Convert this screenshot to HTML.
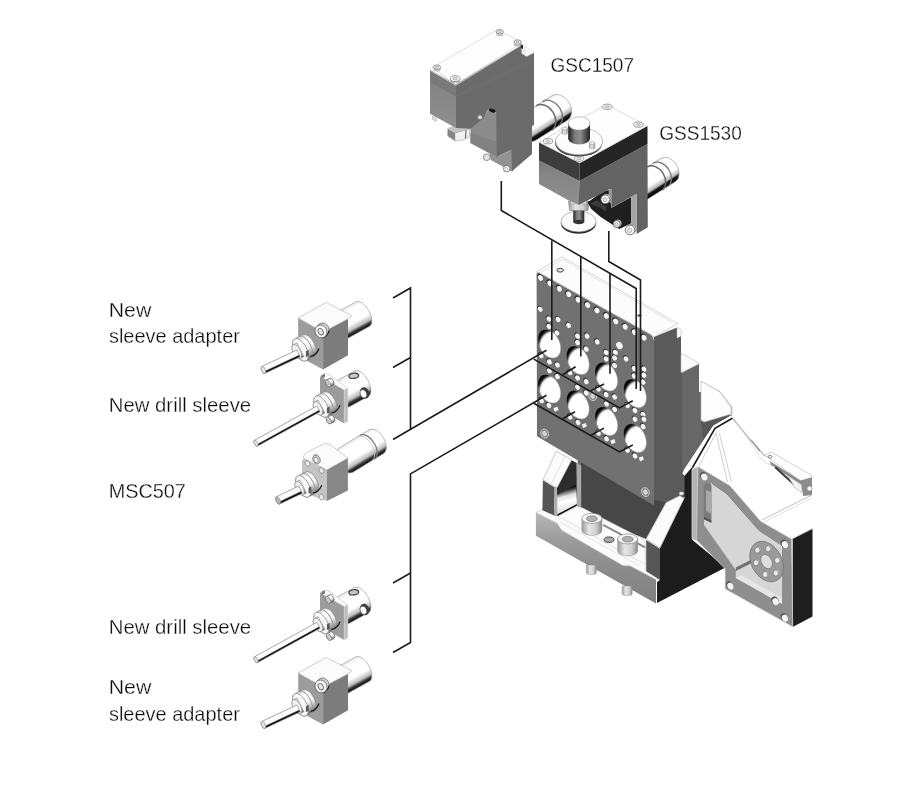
<!DOCTYPE html>
<html><head><meta charset="utf-8"><title>Diagram</title>
<style>
html,body{margin:0;padding:0;background:#fff;}
body{width:900px;height:800px;overflow:hidden;}
svg{display:block;}
text{font-family:"Liberation Sans",sans-serif;font-size:21px;fill:#0c0c0c;stroke:#fff;stroke-width:0.3px;}
svg{will-change:transform;}
</style></head><body>
<svg width="900" height="800" viewBox="0 0 900 800">
<defs>
<linearGradient id="cylG" x1="0" y1="0" x2="0" y2="1">
<stop offset="0" stop-color="#e4e4e4"/><stop offset="0.12" stop-color="#ffffff"/><stop offset="0.62" stop-color="#ffffff"/>
<stop offset="0.8" stop-color="#b4b4b4"/><stop offset="0.87" stop-color="#1a1a1a"/><stop offset="1" stop-color="#000"/>
</linearGradient>
<linearGradient id="cylS" x1="0" y1="0" x2="0" y2="1">
<stop offset="0" stop-color="#eaeaea"/><stop offset="0.15" stop-color="#ffffff"/><stop offset="0.6" stop-color="#ffffff"/>
<stop offset="0.8" stop-color="#bdbdbd"/><stop offset="0.9" stop-color="#333"/><stop offset="1" stop-color="#111"/>
</linearGradient>
<linearGradient id="rodG" x1="0" y1="0" x2="0" y2="1">
<stop offset="0" stop-color="#d8d8d8"/><stop offset="0.1" stop-color="#fff"/><stop offset="0.64" stop-color="#fafafa"/>
<stop offset="0.76" stop-color="#555"/><stop offset="0.86" stop-color="#000"/><stop offset="1" stop-color="#000"/>
</linearGradient>
<linearGradient id="nutG" x1="0" y1="0" x2="0" y2="1">
<stop offset="0" stop-color="#d0d0d0"/><stop offset="0.2" stop-color="#fff"/><stop offset="0.55" stop-color="#f0f0f0"/>
<stop offset="0.8" stop-color="#aaa"/><stop offset="1" stop-color="#666"/>
</linearGradient>
<radialGradient id="holeG" cx="0.62" cy="0.63" r="0.66">
<stop offset="0" stop-color="#fff"/><stop offset="0.74" stop-color="#fff"/><stop offset="0.82" stop-color="#c8c8c8"/><stop offset="0.9" stop-color="#3a3a3a"/><stop offset="1" stop-color="#000"/>
</radialGradient>
<linearGradient id="btnG" x1="0" y1="0" x2="1" y2="0">
<stop offset="0" stop-color="#1e1e1e"/><stop offset="0.3" stop-color="#7a7a7a"/><stop offset="0.55" stop-color="#8e8e8e"/><stop offset="0.85" stop-color="#444"/><stop offset="1" stop-color="#222"/>
</linearGradient>
<linearGradient id="boltG" x1="0" y1="0" x2="1" y2="0">
<stop offset="0" stop-color="#9a9a9a"/><stop offset="0.35" stop-color="#e6e6e6"/><stop offset="0.7" stop-color="#d0d0d0"/><stop offset="1" stop-color="#8a8a8a"/>
</linearGradient>
<linearGradient id="gscL" x1="0" y1="0" x2="0" y2="1">
<stop offset="0" stop-color="#787878"/><stop offset="0.3" stop-color="#858585"/><stop offset="1" stop-color="#8f8f8f"/>
</linearGradient>
<linearGradient id="baseF" x1="0" y1="0" x2="0" y2="1">
<stop offset="0" stop-color="#b8b8b8"/><stop offset="0.3" stop-color="#9c9c9c"/><stop offset="0.6" stop-color="#8c8c8c"/><stop offset="1" stop-color="#808080"/>
</linearGradient>
<linearGradient id="gusCyl" x1="0.25" y1="0" x2="0.45" y2="1">
<stop offset="0" stop-color="#000"/><stop offset="0.2" stop-color="#161616"/><stop offset="0.42" stop-color="#e4e4e4"/><stop offset="0.6" stop-color="#fff"/><stop offset="0.88" stop-color="#e2e2e2"/><stop offset="1" stop-color="#8a8a8a"/>
</linearGradient>
<linearGradient id="whiteCyl" x1="0" y1="0" x2="1" y2="1">
<stop offset="0" stop-color="#777"/><stop offset="0.35" stop-color="#fff"/><stop offset="0.7" stop-color="#fff"/><stop offset="1" stop-color="#999"/>
</linearGradient>
</defs>
<rect width="900" height="800" fill="#fff"/>
<g transform="translate(528.0 128.1) rotate(-32.46)">
<path d="M0,-14.5 L37.5,-14.5 A10.9,14.5 0 0 1 37.5,14.5 L0,14.5 A10.9,14.5 0 0 1 0,-14.5 Z" fill="url(#cylG)" stroke="#9a9a9a" stroke-width="0.6"/>
<path d="M18.7,-14.5 A10.9,14.5 0 0 1 18.7,14.5" fill="none" stroke="#6a6a6a" stroke-width="1.5"/>
<path d="M26.6,-14.5 A10.9,14.5 0 0 1 26.6,14.5" fill="none" stroke="#787878" stroke-width="1.3"/>
</g>
<g id="gsc">
<polygon points="470.5,128.5 484.0,118.5 487.0,111.0 490.0,109.5 495.5,112.5 498.5,112.5 498.5,158.0 470.5,143.0" fill="#8c8c8c" />
<polygon points="470.5,133.0 498.5,142.5 498.5,158.0 470.5,143.0" fill="#818181" />
<polygon points="489.3,153.0 496.7,156.7 513.0,149.5 513.0,171.3 511.3,171.3 490.7,160.0" fill="#939393" />
<polygon points="447.5,128.0 456.0,125.0 470.0,127.0 470.0,130.0 455.0,133.5" fill="#c4c4c4" />
<polygon points="447.5,128.5 455.0,133.0 455.0,141.0 447.5,136.0" fill="#858585" />
<polygon points="455.0,133.0 470.0,129.0 469.3,137.0 463.0,140.0 455.0,141.0" fill="#f1f1f1" stroke="#999" stroke-width="0.5" stroke-linejoin="round" />
<polyline points="466.0,130.5 465.5,138.5" fill="none" stroke="#555" stroke-width="1.0" />
<polygon points="430.0,70.0 456.0,84.5 456.0,128.0 430.0,113.8" fill="url(#gscL)" />
<polygon points="430.0,70.0 456.0,84.5 456.0,96.5 430.0,82.0" fill="#7a7a7a" />
<polygon points="456.0,84.0 522.0,44.5 522.0,48.0 534.0,52.0 534.0,125.0 532.0,126.0 532.0,154.0 512.0,171.3 511.3,150.0 496.7,156.7 496.2,112.8 493.5,110.0 490.0,109.2 487.0,110.8 484.0,118.5 470.5,128.7 456.0,128.0" fill="#6b6b6b" />
<polygon points="521.5,43.5 525.5,46.0 525.5,56.0 521.5,53.5" fill="#f0f0f0" />
<polygon points="525.0,46.3 533.9,51.3 533.9,52.8 526.5,56.6 525.0,55.8" fill="#fbfbfb" stroke="#cfcfcf" stroke-width="0.4" stroke-linejoin="round" />
<polygon points="520.8,44.0 523.0,45.2 523.0,49.0 520.8,48.0" fill="#222" />
<polyline points="456.0,96.5 534.0,60.0" fill="none" stroke="#747474" stroke-width="0.8" />
<ellipse cx="492.3" cy="110.6" rx="3.4" ry="1.7" fill="#111" transform="rotate(18 492.3 110.6)" />
<polygon points="432.3,67.6 497.5,29.5 522.0,42.5 455.7,84.2" fill="#fdfdfd" stroke="#cdcdcd" stroke-width="0.6" stroke-linejoin="round" />
<polyline points="430.3,70.5 455.9,85.2 521.5,45.0" fill="none" stroke="#e0e0e0" stroke-width="0.8" />
<path d="M434.1,67.3 L434.1,70.9 L439.9,70.9 L439.9,67.3 Z" fill="#e8e8e8" stroke="#777" stroke-width="0.5"/>
<ellipse cx="437.0" cy="67.3" rx="3.6" ry="2.2" fill="#f6f6f6" stroke="#6e6e6e" stroke-width="0.7" />
<ellipse cx="437.0" cy="67.3" rx="1.6" ry="1.0" fill="#dcdcdc" stroke="#888" stroke-width="0.5" />
<path d="M451.4,78.6 L451.4,82.2 L459.0,82.2 L459.0,78.6 Z" fill="#e8e8e8" stroke="#777" stroke-width="0.5"/>
<ellipse cx="455.2" cy="78.6" rx="4.8" ry="2.9" fill="#f6f6f6" stroke="#6e6e6e" stroke-width="0.7" />
<ellipse cx="455.2" cy="78.6" rx="2.2" ry="1.3" fill="#dcdcdc" stroke="#888" stroke-width="0.5" />
<path d="M496.8,31.7 L496.8,35.3 L502.6,35.3 L502.6,31.7 Z" fill="#e8e8e8" stroke="#777" stroke-width="0.5"/>
<ellipse cx="499.7" cy="31.7" rx="3.6" ry="2.2" fill="#f6f6f6" stroke="#6e6e6e" stroke-width="0.7" />
<ellipse cx="499.7" cy="31.7" rx="1.6" ry="1.0" fill="#dcdcdc" stroke="#888" stroke-width="0.5" />
<path d="M514.7,42.0 L514.7,45.6 L520.5,45.6 L520.5,42.0 Z" fill="#e8e8e8" stroke="#777" stroke-width="0.5"/>
<ellipse cx="517.6" cy="42.0" rx="3.6" ry="2.2" fill="#f6f6f6" stroke="#6e6e6e" stroke-width="0.7" />
<ellipse cx="517.6" cy="42.0" rx="1.6" ry="1.0" fill="#dcdcdc" stroke="#888" stroke-width="0.5" />
<ellipse cx="486.7" cy="157.3" rx="3.3" ry="3.3" fill="#f4f4f4" stroke="#6e6e6e" stroke-width="0.8" />
<ellipse cx="486.1" cy="157.7" rx="1.5" ry="1.5" fill="#fff" stroke="#999" stroke-width="0.5" />
<ellipse cx="506.7" cy="168.7" rx="3.3" ry="3.3" fill="#f4f4f4" stroke="#6e6e6e" stroke-width="0.8" />
<ellipse cx="506.1" cy="169.1" rx="1.5" ry="1.5" fill="#fff" stroke="#999" stroke-width="0.5" />
<ellipse cx="480.0" cy="117.3" rx="2.3" ry="2.3" fill="#f4f4f4" stroke="#6e6e6e" stroke-width="0.8" />
<ellipse cx="479.4" cy="117.7" rx="1.0" ry="1.0" fill="#fff" stroke="#999" stroke-width="0.5" />
<polygon points="432.5,116.0 436.5,118.0 436.5,121.5 432.5,119.5" fill="#ddd" stroke="#999" stroke-width="0.4" stroke-linejoin="round" />
</g>
<g transform="translate(640.0 187.8) rotate(-32.44)">
<path d="M0,-13.7 L33.2,-13.7 A9.9,13.7 0 0 1 33.2,13.7 L0,13.7 A9.9,13.7 0 0 1 0,-13.7 Z" fill="url(#cylG)" stroke="#9a9a9a" stroke-width="0.6"/>
<path d="M17.3,-13.7 A9.9,13.7 0 0 1 17.3,13.7" fill="none" stroke="#6a6a6a" stroke-width="1.5"/>
<path d="M24.2,-13.7 A9.9,13.7 0 0 1 24.2,13.7" fill="none" stroke="#787878" stroke-width="1.3"/>
</g>
<g id="gss">
<ellipse cx="578.5" cy="223.3" rx="17.6" ry="10.4" fill="#2a2a2a" />
<ellipse cx="578.5" cy="221.5" rx="17.6" ry="10.4" fill="#fbfbfb" stroke="#8a8a8a" stroke-width="0.6" />
<rect x="573.3" y="208" width="11" height="14" fill="url(#btnG)"/>
<ellipse cx="578.8" cy="222.0" rx="5.5" ry="2.2" fill="#333" />
<polygon points="568.5,201.0 589.0,201.0 588.0,210.5 569.5,210.5" fill="url(#boltG)" stroke="#777" stroke-width="0.5" stroke-linejoin="round" />
<polygon points="571.0,199.0 586.0,199.0 587.0,204.0 570.0,204.0" fill="#d6d6d6" stroke="#888" stroke-width="0.4" stroke-linejoin="round" />
<polygon points="587.5,202.5 603.3,191.0 609.5,190.0 611.3,208.0 631.3,197.0 631.3,223.3 619.3,229.0 600.7,217.0 591.3,209.0" fill="#1f1f1f" />
<polygon points="590.0,204.0 597.0,200.3 606.0,206.3 606.0,211.5 599.0,207.0" fill="#3c3c3c" />
<polygon points="539.0,160.5 579.5,181.0 579.5,205.0 567.8,200.0 539.0,184.0" fill="url(#gscL)" />
<polygon points="579.5,181.0 647.5,144.0 647.8,227.3 636.7,234.0 636.7,194.0 631.3,196.7 611.3,208.0 611.3,189.0 608.7,189.5 603.3,192.7 578.7,204.7" fill="#636363" />
<polygon points="631.3,196.7 636.7,194.0 636.7,232.7 631.3,226.0" fill="#a4a4a4" />
<polygon points="608.7,189.5 611.3,188.5 611.3,203.3 608.7,202.0" fill="#9c9c9c" />
<polygon points="539.0,142.5 579.5,163.0 579.5,181.0 539.0,160.5" fill="#3d3d3d" />
<polygon points="579.5,163.0 647.5,126.0 647.5,144.0 579.5,181.0" fill="#252525" />
<polygon points="539.4,142.0 606.6,104.4 646.8,126.0 579.9,162.9" fill="#fefefe" stroke="#c4c4c4" stroke-width="0.6" stroke-linejoin="round" />
<ellipse cx="548.0" cy="141.2" rx="4.7" ry="2.7" fill="#f4f4f4" stroke="#7a7a7a" stroke-width="0.7" />
<ellipse cx="548.0" cy="141.2" rx="2.2" ry="1.2" fill="#ddd" stroke="#8a8a8a" stroke-width="0.5" />
<ellipse cx="579.1" cy="158.6" rx="4.7" ry="2.7" fill="#f4f4f4" stroke="#7a7a7a" stroke-width="0.7" />
<ellipse cx="579.1" cy="158.6" rx="2.2" ry="1.2" fill="#ddd" stroke="#8a8a8a" stroke-width="0.5" />
<ellipse cx="638.4" cy="124.6" rx="4.7" ry="2.7" fill="#f4f4f4" stroke="#7a7a7a" stroke-width="0.7" />
<ellipse cx="638.4" cy="124.6" rx="2.2" ry="1.2" fill="#ddd" stroke="#8a8a8a" stroke-width="0.5" />
<ellipse cx="607.3" cy="106.8" rx="4.7" ry="2.7" fill="#f4f4f4" stroke="#7a7a7a" stroke-width="0.7" />
<ellipse cx="607.3" cy="106.8" rx="2.2" ry="1.2" fill="#ddd" stroke="#8a8a8a" stroke-width="0.5" />
<ellipse cx="578.7" cy="143.1" rx="23.6" ry="13.5" fill="#4a4a4a" />
<ellipse cx="579.1" cy="141.3" rx="23.5" ry="13.5" fill="#fcfcfc" stroke="#999" stroke-width="0.6" />
<path d="M561.9000000000001,128.5 L561.9000000000001,133.0 A2.8,1.5 0 0 0 567.5,133.0 L567.5,128.5 Z" fill="url(#boltG)" stroke="#888" stroke-width="0.4"/>
<ellipse cx="564.7" cy="128.5" rx="2.8" ry="1.5" fill="#f0f0f0" stroke="#888" stroke-width="0.5" />
<path d="M589.3000000000001,143 L589.3000000000001,147.5 A2.8,1.5 0 0 0 594.9,147.5 L594.9,143 Z" fill="url(#boltG)" stroke="#888" stroke-width="0.4"/>
<ellipse cx="592.1" cy="143.0" rx="2.8" ry="1.5" fill="#f0f0f0" stroke="#888" stroke-width="0.5" />
<path d="M568.2,123.4 L568.2,138.6 A10.9,5.8 0 0 0 590,138.6 L590,123.4 Z" fill="url(#btnG)"/>
<ellipse cx="579.1" cy="123.4" rx="10.9" ry="6.7" fill="#fdfdfd" stroke="#9a9a9a" stroke-width="0.6" />
<ellipse cx="606.5" cy="198.5" rx="4.4" ry="4.4" fill="#ededed" stroke="#666" stroke-width="0.6" />
<ellipse cx="605.3" cy="199.3" rx="4.4" ry="4.4" fill="#fafafa" stroke="#555" stroke-width="0.8" />
<ellipse cx="605.0" cy="199.6" rx="2.0" ry="2.0" fill="#e8e8e8" stroke="#888" stroke-width="0.6" />
<ellipse cx="617.9" cy="223.2" rx="3.5" ry="3.5" fill="#ededed" stroke="#666" stroke-width="0.6" />
<ellipse cx="616.7" cy="224.0" rx="3.5" ry="3.5" fill="#fafafa" stroke="#555" stroke-width="0.8" />
<ellipse cx="616.4" cy="224.3" rx="1.6" ry="1.6" fill="#e8e8e8" stroke="#888" stroke-width="0.6" />
<ellipse cx="631.2" cy="229.2" rx="4.8" ry="4.8" fill="#ededed" stroke="#666" stroke-width="0.6" />
<ellipse cx="630.0" cy="230.0" rx="4.8" ry="4.8" fill="#fafafa" stroke="#555" stroke-width="0.8" />
<ellipse cx="629.7" cy="230.3" rx="2.2" ry="2.2" fill="#e8e8e8" stroke="#888" stroke-width="0.6" />
</g>
<g id="body">
<polyline points="700.7,381.4 719.4,391.9 731.6,407.4 731.6,416.0" fill="none" stroke="#c2c2c2" stroke-width="1.6" />
<polyline points="732.4,417.9 750.2,439.9 764.9,456.1" fill="none" stroke="#c2c2c2" stroke-width="1.6" />
<polygon points="750.2,439.5 752.0,440.0 760.5,450.5 759.0,451.5" fill="#9a9a9a" />
<polyline points="733.0,417.0 762.0,460.0 772.0,466.0" fill="none" stroke="#d4d4d4" stroke-width="0.7" />
<polyline points="716.1,433.4 727.5,482.1" fill="none" stroke="#cacaca" stroke-width="0.9" />
<polyline points="719.4,433.4 731.6,482.1" fill="none" stroke="#cacaca" stroke-width="0.9" />
<polyline points="699.1,465.9 716.1,432.6" fill="none" stroke="#cacaca" stroke-width="0.9" />
<polyline points="761.9,520.0 811.7,495.0" fill="none" stroke="#c0c0c0" stroke-width="1.0" />
<polyline points="763.5,522.5 811.7,498.0" fill="none" stroke="#d0d0d0" stroke-width="0.7" />
<polyline points="792.0,539.0 812.5,528.5" fill="none" stroke="#b8b8b8" stroke-width="0.8" />
<polyline points="703.1,400.0 716.1,394.4" fill="none" stroke="#d0d0d0" stroke-width="1.2" />
<polygon points="764.9,455.3 771.4,452.1 812.0,475.6 812.0,478.0 800.6,481.0" fill="#fdfdfd" stroke="#c4c4c4" stroke-width="0.8" stroke-linejoin="round" />
<polygon points="769.7,461.0 800.6,480.5 812.0,477.2 812.0,495.1 803.1,495.9 801.4,484.5 771.0,465.0" fill="#8c8c8c" />
<polygon points="776.0,466.5 799.0,487.5 797.0,488.5 774.5,468.0" fill="#3c3c3c" />
<polygon points="787.6,475.6 801.4,485.0 802.0,492.5 795.0,488.0" fill="#f4f4f4" stroke="#999" stroke-width="0.5" stroke-linejoin="round" />
<ellipse cx="770.0" cy="456.8" rx="2.0" ry="1.4" fill="#e8e8e8" stroke="#666" stroke-width="0.7" />
<ellipse cx="809.5" cy="488.5" rx="2.6" ry="2.6" fill="#f4f4f4" stroke="#777" stroke-width="0.6" />
<polygon points="792.7,539.0 812.5,529.0 812.5,616.5 792.7,627.0" fill="#1e1e1e" />
<polygon points="536.6,271.6 562.0,256.9 677.6,323.6 654.4,337.0" fill="#fcfcfc" stroke="#c4c4c4" stroke-width="0.7" stroke-linejoin="round" />
<polyline points="541.0,272.0 563.0,259.5 672.0,322.5" fill="none" stroke="#d6d6d6" stroke-width="0.6" />
<ellipse cx="560.2" cy="270.2" rx="3.3" ry="1.9" fill="#e4e4e4" stroke="#444" stroke-width="1.0" />
<ellipse cx="639.5" cy="315.5" rx="2.2" ry="1.2" fill="#555" />
<polygon points="654.0,337.0 677.0,327.5 677.0,338.0 681.0,336.0 681.0,372.5 699.0,364.0 699.0,392.0 701.0,392.0 701.0,420.0 704.0,422.0 730.0,414.2 730.5,415.5 713.0,425.5 684.5,468.5 682.3,473.5 685.0,476.0 685.0,497.0 666.0,503.0 654.0,506.0" fill="#5a5a5a" />
<polygon points="682.0,373.0 699.0,364.0 699.0,392.0 701.0,392.0 701.0,420.0 704.0,422.0 713.0,425.5 684.5,468.5 682.0,472.0" fill="#676767" />
<polygon points="701.0,420.0 704.0,422.0 730.0,414.2 730.5,415.5 713.0,425.5 703.0,440.0" fill="#575757" />
<polygon points="677.0,327.5 681.5,329.8 681.0,336.0 677.0,338.0" fill="#fafafa" stroke="#b8b8b8" stroke-width="0.5" stroke-linejoin="round" />
<polygon points="681.0,354.5 683.0,354.0 699.4,363.6 682.0,372.4 681.0,372.0" fill="#fcfcfc" stroke="#b8b8b8" stroke-width="0.6" stroke-linejoin="round" />
<polygon points="701.0,381.0 720.0,392.0 731.0,407.0 731.0,414.0 704.0,422.0 701.0,420.0" fill="#fdfdfd" stroke="#b8b8b8" stroke-width="0.7" stroke-linejoin="round" />
<polyline points="732.3,418.3 715.0,428.3 692.5,467.5" fill="none" stroke="#1a1a1a" stroke-width="1.6" />
<polygon points="581.0,455.0 655.0,500.0 666.0,502.5 646.0,539.0 581.0,512.5" fill="#474747" />
<polygon points="577.5,461.0 581.0,459.0 581.0,512.5 577.5,505.0" fill="#6c6c6c" />
<polygon points="535.9,512.4 557.2,523.3 561.5,530.0 623.0,565.5 630.0,565.8 656.0,579.5 656.0,603.6 535.9,535.8" fill="url(#baseF)" />
<polygon points="535.9,512.4 543.8,508.8 557.5,516.0 578.8,506.0 645.0,540.0 646.0,571.0 660.0,578.0 656.0,579.5 630.0,565.8 623.0,565.5 561.5,530.0 557.2,523.3" fill="#fbfbfb" stroke="#c0c0c0" stroke-width="0.6" stroke-linejoin="round" />
<polyline points="557.5,516.0 568.0,521.5 620.0,551.0 645.0,564.0" fill="none" stroke="#d0d0d0" stroke-width="0.6" />
<polyline points="603.1,524.9 645.1,547.4" fill="none" stroke="#8c8c8c" stroke-width="2.2" />
<polyline points="560.0,522.0 640.0,566.0" fill="none" stroke="#d8d8d8" stroke-width="0.6" />
<path d="M586.4,565 L586.4,572.5 A5,2.2 0 0 0 596.4,572.5 L596.4,565 Z" fill="url(#boltG)" stroke="#888" stroke-width="0.4"/>
<path d="M622.2,586 L622.2,593.5 A5,2.2 0 0 0 632.2,593.5 L632.2,586 Z" fill="url(#boltG)" stroke="#888" stroke-width="0.4"/>
<path d="M581.9,518.4 L581.9,530.4 A10,5 0 0 0 601.9,530.4 L601.9,518.4 Z" fill="url(#boltG)" stroke="#8a8a8a" stroke-width="0.5"/>
<ellipse cx="591.9" cy="518.4" rx="10.0" ry="5.0" fill="#f6f6f6" stroke="#8a8a8a" stroke-width="0.7" />
<ellipse cx="591.9" cy="518.7" rx="5.5" ry="2.8" fill="#b0b0b0" stroke="#707070" stroke-width="0.7" />
<path d="M617.7,538.9 L617.7,550.9 A10,5 0 0 0 637.7,550.9 L637.7,538.9 Z" fill="url(#boltG)" stroke="#8a8a8a" stroke-width="0.5"/>
<ellipse cx="627.7" cy="538.9" rx="10.0" ry="5.0" fill="#f6f6f6" stroke="#8a8a8a" stroke-width="0.7" />
<ellipse cx="627.7" cy="539.2" rx="5.5" ry="2.8" fill="#b0b0b0" stroke="#707070" stroke-width="0.7" />
<ellipse cx="609.0" cy="539.7" rx="5.0" ry="2.7" fill="#a8a8a8" stroke="#4a4a4a" stroke-width="1.0" />
<polygon points="571.6,460.3 576.7,463.1 577.3,505.0 557.6,515.8 554.2,515.4 554.2,487.3 557.0,487.8" fill="#2d2d2d" />
<polygon points="554.2,496.8 575.8,484.5 577.3,504.3 557.6,514.6 554.2,509.0" fill="url(#gusCyl)" />
<polyline points="557.6,515.2 577.3,504.6" fill="none" stroke="#0a0a0a" stroke-width="1.4" />
<polygon points="576.7,463.1 581.2,465.5 581.2,508.0 576.7,506.0" fill="#a8a8a8" />
<polygon points="542.9,480.3 554.2,487.3 554.2,515.4 542.4,510.3" fill="#555555" />
<polygon points="554.2,487.3 557.0,487.8 557.6,515.8 554.2,515.4" fill="#b0b0b0" />
<polygon points="556.4,451.3 571.6,459.7 557.0,487.8 542.9,479.8" fill="#fbfbfb" stroke="#a8a8a8" stroke-width="0.6" stroke-linejoin="round" />
<polyline points="565.0,456.5 551.0,484.3" fill="none" stroke="#d0d0d0" stroke-width="0.6" />
<polygon points="657.0,603.0 657.0,582.0 660.0,580.0 660.0,548.0 684.5,498.0 684.5,476.0 692.5,466.5 692.5,540.0 724.5,566.5 724.5,568.0" fill="#1c1c1c" />
<polygon points="646.2,540.0 660.0,548.8 660.0,580.0 646.2,571.2" fill="#575757" />
<polygon points="666.2,502.5 680.0,495.5 683.8,498.8 660.0,547.8 646.2,538.9" fill="#fbfbfb" stroke="#a0a0a0" stroke-width="0.6" stroke-linejoin="round" />
<ellipse cx="681.5" cy="493.5" rx="2.4" ry="1.7" fill="#f4f4f4" stroke="#888" stroke-width="0.5" />
<polygon points="691.9,469.5 697.8,466.6 697.8,541.0 691.9,539.0" fill="#b4b4b4" stroke="#e8e8e8" stroke-width="0.5" stroke-linejoin="round" />
<polygon points="697.8,466.6 729.8,485.6 760.7,521.2 791.6,539.0 792.7,626.8 725.1,588.9 725.1,568.7 696.6,540.2" fill="#8e8e8e" stroke="#dcdcdc" stroke-width="0.6" stroke-linejoin="round" />
<polygon points="711.0,482.5 727.0,493.8 759.0,530.0 782.0,545.0 782.0,604.0 735.8,578.0 735.8,570.0 704.0,525.0 704.0,519.0 711.0,522.0" fill="#d6d6d6" />
<polyline points="711.5,483.0 727.0,494.0 759.0,530.5 781.5,545.0" fill="none" stroke="#6e6e6e" stroke-width="0.8" />
<polygon points="735.8,578.0 782.0,604.0 782.0,598.0 741.0,575.0" fill="#e6e6e6" />
<polygon points="703.7,486.0 706.5,482.5 711.5,485.0 711.5,520.0 703.7,516.0" fill="#7a7a7a" />
<polygon points="706.0,490.0 711.5,492.0 711.5,514.0 706.0,511.0" fill="#a8a8a8" />
<polygon points="704.0,516.5 711.5,520.3 711.5,523.0 704.0,519.5" fill="#555" />
<polygon points="735.8,567.5 753.6,558.5 753.6,562.0 735.8,571.0" fill="#707070" />
<ellipse cx="766.6" cy="561.6" rx="15.2" ry="21.5" fill="#9a9a9a" stroke="#6a6a6a" stroke-width="0.6" transform="rotate(-28 766.6 561.6)" />
<ellipse cx="766.6" cy="561.6" rx="5.2" ry="7.6" fill="#dedede" stroke="#777" stroke-width="0.7" transform="rotate(-28 766.6 561.6)" />
<ellipse cx="778.0" cy="559.9" rx="2.9" ry="3.3" fill="#cfcfcf" stroke="#777" stroke-width="0.5" />
<ellipse cx="777.2" cy="560.4" rx="2.6" ry="3.0" fill="#e9e9e9" stroke="#666" stroke-width="0.6" />
<ellipse cx="776.6" cy="572.6" rx="2.9" ry="3.3" fill="#cfcfcf" stroke="#777" stroke-width="0.5" />
<ellipse cx="775.8" cy="573.1" rx="2.6" ry="3.0" fill="#e9e9e9" stroke="#666" stroke-width="0.6" />
<ellipse cx="765.9" cy="573.9" rx="2.9" ry="3.3" fill="#cfcfcf" stroke="#777" stroke-width="0.5" />
<ellipse cx="765.1" cy="574.4" rx="2.6" ry="3.0" fill="#e9e9e9" stroke="#666" stroke-width="0.6" />
<ellipse cx="756.8" cy="562.3" rx="2.9" ry="3.3" fill="#cfcfcf" stroke="#777" stroke-width="0.5" />
<ellipse cx="756.0" cy="562.8" rx="2.6" ry="3.0" fill="#e9e9e9" stroke="#666" stroke-width="0.6" />
<ellipse cx="758.2" cy="549.6" rx="2.9" ry="3.3" fill="#cfcfcf" stroke="#777" stroke-width="0.5" />
<ellipse cx="757.4" cy="550.1" rx="2.6" ry="3.0" fill="#e9e9e9" stroke="#666" stroke-width="0.6" />
<ellipse cx="768.9" cy="548.3" rx="2.9" ry="3.3" fill="#cfcfcf" stroke="#777" stroke-width="0.5" />
<ellipse cx="768.1" cy="548.8" rx="2.6" ry="3.0" fill="#e9e9e9" stroke="#666" stroke-width="0.6" />
<ellipse cx="703.7" cy="476.1" rx="3.4" ry="4.4" fill="#555" transform="rotate(-28 703.7 476.1)" />
<ellipse cx="704.3" cy="477.0" rx="3.0" ry="3.6" fill="#f6f6f6" transform="rotate(-28 704.3 477.0)" />
<ellipse cx="784.4" cy="543.8" rx="3.4" ry="4.4" fill="#555" transform="rotate(-28 784.4 543.8)" />
<ellipse cx="785.0" cy="544.7" rx="3.0" ry="3.6" fill="#f6f6f6" transform="rotate(-28 785.0 544.7)" />
<ellipse cx="729.8" cy="585.3" rx="3.4" ry="4.4" fill="#555" transform="rotate(-28 729.8 585.3)" />
<ellipse cx="730.4" cy="586.2" rx="3.0" ry="3.6" fill="#f6f6f6" transform="rotate(-28 730.4 586.2)" />
<ellipse cx="784.4" cy="617.3" rx="3.4" ry="4.4" fill="#555" transform="rotate(-28 784.4 617.3)" />
<ellipse cx="785.0" cy="618.2" rx="3.0" ry="3.6" fill="#f6f6f6" transform="rotate(-28 785.0 618.2)" />
<ellipse cx="775.0" cy="600.7" rx="3.4" ry="4.4" fill="#555" transform="rotate(-28 775.0 600.7)" />
<ellipse cx="775.6" cy="601.6" rx="3.0" ry="3.6" fill="#f6f6f6" transform="rotate(-28 775.6 601.6)" />
</g>
<g id="plate">
<path d="M536.6,274.3 Q536.6,271.4 539,272.6 L650,334.0 Q654,336.2 654,340.5 L654,505.5 L537,436.3 Z" fill="#717171"/>
<path d="M536.6,274.3 Q536.6,271.4 539,272.6 L650,334.0 Q654,336.2 654,340.5" fill="none" stroke="#c8c8c8" stroke-width="0.8"/>
<ellipse cx="539.8" cy="276.9" rx="2.5" ry="3.2" fill="#2a2a2a" transform="rotate(-30 539.8 276.9)" />
<ellipse cx="540.4" cy="277.9" rx="2.4" ry="3.0" fill="#f6f6f6" transform="rotate(-30 540.4 277.9)" />
<ellipse cx="549.2" cy="282.3" rx="2.5" ry="3.2" fill="#2a2a2a" transform="rotate(-30 549.2 282.3)" />
<ellipse cx="549.9" cy="283.4" rx="2.4" ry="3.0" fill="#f6f6f6" transform="rotate(-30 549.9 283.4)" />
<ellipse cx="558.6" cy="287.8" rx="2.5" ry="3.2" fill="#2a2a2a" transform="rotate(-30 558.6 287.8)" />
<ellipse cx="559.3" cy="288.8" rx="2.4" ry="3.0" fill="#f6f6f6" transform="rotate(-30 559.3 288.8)" />
<ellipse cx="568.0" cy="293.2" rx="2.5" ry="3.2" fill="#2a2a2a" transform="rotate(-30 568.0 293.2)" />
<ellipse cx="568.7" cy="294.2" rx="2.4" ry="3.0" fill="#f6f6f6" transform="rotate(-30 568.7 294.2)" />
<ellipse cx="577.4" cy="298.6" rx="2.5" ry="3.2" fill="#2a2a2a" transform="rotate(-30 577.4 298.6)" />
<ellipse cx="578.1" cy="299.7" rx="2.4" ry="3.0" fill="#f6f6f6" transform="rotate(-30 578.1 299.7)" />
<ellipse cx="586.8" cy="304.0" rx="2.5" ry="3.2" fill="#2a2a2a" transform="rotate(-30 586.8 304.0)" />
<ellipse cx="587.5" cy="305.1" rx="2.4" ry="3.0" fill="#f6f6f6" transform="rotate(-30 587.5 305.1)" />
<ellipse cx="596.3" cy="309.5" rx="2.5" ry="3.2" fill="#2a2a2a" transform="rotate(-30 596.3 309.5)" />
<ellipse cx="596.9" cy="310.5" rx="2.4" ry="3.0" fill="#f6f6f6" transform="rotate(-30 596.9 310.5)" />
<ellipse cx="605.7" cy="314.9" rx="2.5" ry="3.2" fill="#2a2a2a" transform="rotate(-30 605.7 314.9)" />
<ellipse cx="606.3" cy="316.0" rx="2.4" ry="3.0" fill="#f6f6f6" transform="rotate(-30 606.3 316.0)" />
<ellipse cx="615.1" cy="320.3" rx="2.5" ry="3.2" fill="#2a2a2a" transform="rotate(-30 615.1 320.3)" />
<ellipse cx="615.7" cy="321.4" rx="2.4" ry="3.0" fill="#f6f6f6" transform="rotate(-30 615.7 321.4)" />
<ellipse cx="624.5" cy="325.8" rx="2.5" ry="3.2" fill="#2a2a2a" transform="rotate(-30 624.5 325.8)" />
<ellipse cx="625.1" cy="326.8" rx="2.4" ry="3.0" fill="#f6f6f6" transform="rotate(-30 625.1 326.8)" />
<ellipse cx="633.9" cy="331.2" rx="2.5" ry="3.2" fill="#2a2a2a" transform="rotate(-30 633.9 331.2)" />
<ellipse cx="634.5" cy="332.2" rx="2.4" ry="3.0" fill="#f6f6f6" transform="rotate(-30 634.5 332.2)" />
<ellipse cx="643.3" cy="336.6" rx="2.5" ry="3.2" fill="#2a2a2a" transform="rotate(-30 643.3 336.6)" />
<ellipse cx="644.0" cy="337.7" rx="2.4" ry="3.0" fill="#f6f6f6" transform="rotate(-30 644.0 337.7)" />
<ellipse cx="539.6" cy="308.3" rx="2.3" ry="2.9" fill="#333" transform="rotate(-30 539.6 308.3)" />
<ellipse cx="540.2" cy="309.2" rx="2.2" ry="2.8" fill="#f6f6f6" transform="rotate(-30 540.2 309.2)" />
<ellipse cx="548.2" cy="318.0" rx="2.3" ry="2.9" fill="#333" transform="rotate(-30 548.2 318.0)" />
<ellipse cx="548.9" cy="318.9" rx="2.2" ry="2.8" fill="#f6f6f6" transform="rotate(-30 548.9 318.9)" />
<ellipse cx="557.4" cy="318.5" rx="2.3" ry="2.9" fill="#333" transform="rotate(-30 557.4 318.5)" />
<ellipse cx="558.0" cy="319.4" rx="2.2" ry="2.8" fill="#f6f6f6" transform="rotate(-30 558.0 319.4)" />
<ellipse cx="568.0" cy="324.5" rx="2.3" ry="2.9" fill="#333" transform="rotate(-30 568.0 324.5)" />
<ellipse cx="568.6" cy="325.4" rx="2.2" ry="2.8" fill="#f6f6f6" transform="rotate(-30 568.6 325.4)" />
<ellipse cx="548.2" cy="325.4" rx="2.3" ry="2.9" fill="#333" transform="rotate(-30 548.2 325.4)" />
<ellipse cx="548.9" cy="326.4" rx="2.2" ry="2.8" fill="#f6f6f6" transform="rotate(-30 548.9 326.4)" />
<ellipse cx="556.3" cy="331.9" rx="2.3" ry="2.9" fill="#333" transform="rotate(-30 556.3 331.9)" />
<ellipse cx="556.9" cy="332.9" rx="2.2" ry="2.8" fill="#f6f6f6" transform="rotate(-30 556.9 332.9)" />
<ellipse cx="576.9" cy="335.1" rx="2.3" ry="2.9" fill="#333" transform="rotate(-30 576.9 335.1)" />
<ellipse cx="577.5" cy="336.1" rx="2.2" ry="2.8" fill="#f6f6f6" transform="rotate(-30 577.5 336.1)" />
<ellipse cx="586.4" cy="335.1" rx="2.3" ry="2.9" fill="#333" transform="rotate(-30 586.4 335.1)" />
<ellipse cx="587.0" cy="336.1" rx="2.2" ry="2.8" fill="#f6f6f6" transform="rotate(-30 587.0 336.1)" />
<ellipse cx="576.9" cy="341.6" rx="2.3" ry="2.9" fill="#333" transform="rotate(-30 576.9 341.6)" />
<ellipse cx="577.5" cy="342.6" rx="2.2" ry="2.8" fill="#f6f6f6" transform="rotate(-30 577.5 342.6)" />
<ellipse cx="585.6" cy="348.1" rx="2.3" ry="2.9" fill="#333" transform="rotate(-30 585.6 348.1)" />
<ellipse cx="586.2" cy="349.1" rx="2.2" ry="2.8" fill="#f6f6f6" transform="rotate(-30 586.2 349.1)" />
<ellipse cx="596.6" cy="340.8" rx="2.3" ry="2.9" fill="#333" transform="rotate(-30 596.6 340.8)" />
<ellipse cx="597.2" cy="341.8" rx="2.2" ry="2.8" fill="#f6f6f6" transform="rotate(-30 597.2 341.8)" />
<ellipse cx="605.5" cy="351.4" rx="2.3" ry="2.9" fill="#333" transform="rotate(-30 605.5 351.4)" />
<ellipse cx="606.1" cy="352.4" rx="2.2" ry="2.8" fill="#f6f6f6" transform="rotate(-30 606.1 352.4)" />
<ellipse cx="614.8" cy="351.4" rx="2.3" ry="2.9" fill="#333" transform="rotate(-30 614.8 351.4)" />
<ellipse cx="615.4" cy="352.4" rx="2.2" ry="2.8" fill="#f6f6f6" transform="rotate(-30 615.4 352.4)" />
<ellipse cx="605.5" cy="357.9" rx="2.3" ry="2.9" fill="#333" transform="rotate(-30 605.5 357.9)" />
<ellipse cx="606.1" cy="358.9" rx="2.2" ry="2.8" fill="#f6f6f6" transform="rotate(-30 606.1 358.9)" />
<ellipse cx="614.0" cy="357.0" rx="2.3" ry="2.9" fill="#333" transform="rotate(-30 614.0 357.0)" />
<ellipse cx="614.6" cy="357.9" rx="2.2" ry="2.8" fill="#f6f6f6" transform="rotate(-30 614.6 357.9)" />
<ellipse cx="625.4" cy="357.9" rx="2.3" ry="2.9" fill="#333" transform="rotate(-30 625.4 357.9)" />
<ellipse cx="626.0" cy="358.9" rx="2.2" ry="2.8" fill="#f6f6f6" transform="rotate(-30 626.0 358.9)" />
<ellipse cx="614.0" cy="364.4" rx="2.3" ry="2.9" fill="#333" transform="rotate(-30 614.0 364.4)" />
<ellipse cx="614.6" cy="365.4" rx="2.2" ry="2.8" fill="#f6f6f6" transform="rotate(-30 614.6 365.4)" />
<ellipse cx="633.5" cy="367.6" rx="2.3" ry="2.9" fill="#333" transform="rotate(-30 633.5 367.6)" />
<ellipse cx="634.1" cy="368.6" rx="2.2" ry="2.8" fill="#f6f6f6" transform="rotate(-30 634.1 368.6)" />
<ellipse cx="643.2" cy="368.1" rx="2.3" ry="2.9" fill="#333" transform="rotate(-30 643.2 368.1)" />
<ellipse cx="643.9" cy="369.1" rx="2.2" ry="2.8" fill="#f6f6f6" transform="rotate(-30 643.9 369.1)" />
<ellipse cx="633.5" cy="374.9" rx="2.3" ry="2.9" fill="#333" transform="rotate(-30 633.5 374.9)" />
<ellipse cx="634.1" cy="375.9" rx="2.2" ry="2.8" fill="#f6f6f6" transform="rotate(-30 634.1 375.9)" />
<ellipse cx="643.2" cy="374.1" rx="2.3" ry="2.9" fill="#333" transform="rotate(-30 643.2 374.1)" />
<ellipse cx="643.9" cy="375.1" rx="2.2" ry="2.8" fill="#f6f6f6" transform="rotate(-30 643.9 375.1)" />
<ellipse cx="642.4" cy="381.1" rx="2.3" ry="2.9" fill="#333" transform="rotate(-30 642.4 381.1)" />
<ellipse cx="643.0" cy="382.1" rx="2.2" ry="2.8" fill="#f6f6f6" transform="rotate(-30 643.0 382.1)" />
<ellipse cx="540.5" cy="354.6" rx="2.3" ry="2.9" fill="#333" transform="rotate(-30 540.5 354.6)" />
<ellipse cx="541.1" cy="355.6" rx="2.2" ry="2.8" fill="#f6f6f6" transform="rotate(-30 541.1 355.6)" />
<ellipse cx="548.8" cy="360.8" rx="2.3" ry="2.9" fill="#333" transform="rotate(-30 548.8 360.8)" />
<ellipse cx="549.4" cy="361.8" rx="2.2" ry="2.8" fill="#f6f6f6" transform="rotate(-30 549.4 361.8)" />
<ellipse cx="556.8" cy="364.0" rx="2.3" ry="2.9" fill="#333" transform="rotate(-30 556.8 364.0)" />
<ellipse cx="557.4" cy="364.9" rx="2.2" ry="2.8" fill="#f6f6f6" transform="rotate(-30 557.4 364.9)" />
<ellipse cx="548.8" cy="369.7" rx="2.3" ry="2.9" fill="#333" transform="rotate(-30 548.8 369.7)" />
<ellipse cx="549.4" cy="370.6" rx="2.2" ry="2.8" fill="#f6f6f6" transform="rotate(-30 549.4 370.6)" />
<ellipse cx="556.8" cy="375.7" rx="2.3" ry="2.9" fill="#333" transform="rotate(-30 556.8 375.7)" />
<ellipse cx="557.4" cy="376.6" rx="2.2" ry="2.8" fill="#f6f6f6" transform="rotate(-30 557.4 376.6)" />
<ellipse cx="569.3" cy="371.7" rx="2.3" ry="2.9" fill="#333" transform="rotate(-30 569.3 371.7)" />
<ellipse cx="569.9" cy="372.6" rx="2.2" ry="2.8" fill="#f6f6f6" transform="rotate(-30 569.9 372.6)" />
<ellipse cx="576.9" cy="377.0" rx="2.3" ry="2.9" fill="#333" transform="rotate(-30 576.9 377.0)" />
<ellipse cx="577.5" cy="377.9" rx="2.2" ry="2.8" fill="#f6f6f6" transform="rotate(-30 577.5 377.9)" />
<ellipse cx="585.6" cy="380.6" rx="2.3" ry="2.9" fill="#333" transform="rotate(-30 585.6 380.6)" />
<ellipse cx="586.2" cy="381.6" rx="2.2" ry="2.8" fill="#f6f6f6" transform="rotate(-30 586.2 381.6)" />
<ellipse cx="576.9" cy="386.3" rx="2.3" ry="2.9" fill="#333" transform="rotate(-30 576.9 386.3)" />
<ellipse cx="577.5" cy="387.2" rx="2.2" ry="2.8" fill="#f6f6f6" transform="rotate(-30 577.5 387.2)" />
<ellipse cx="585.6" cy="392.0" rx="2.3" ry="2.9" fill="#333" transform="rotate(-30 585.6 392.0)" />
<ellipse cx="586.2" cy="392.9" rx="2.2" ry="2.8" fill="#f6f6f6" transform="rotate(-30 586.2 392.9)" />
<ellipse cx="597.8" cy="387.9" rx="2.3" ry="2.9" fill="#333" transform="rotate(-30 597.8 387.9)" />
<ellipse cx="598.4" cy="388.9" rx="2.2" ry="2.8" fill="#f6f6f6" transform="rotate(-30 598.4 388.9)" />
<ellipse cx="605.5" cy="393.6" rx="2.3" ry="2.9" fill="#333" transform="rotate(-30 605.5 393.6)" />
<ellipse cx="606.1" cy="394.6" rx="2.2" ry="2.8" fill="#f6f6f6" transform="rotate(-30 606.1 394.6)" />
<ellipse cx="614.0" cy="396.0" rx="2.3" ry="2.9" fill="#333" transform="rotate(-30 614.0 396.0)" />
<ellipse cx="614.6" cy="396.9" rx="2.2" ry="2.8" fill="#f6f6f6" transform="rotate(-30 614.6 396.9)" />
<ellipse cx="605.9" cy="402.9" rx="2.3" ry="2.9" fill="#333" transform="rotate(-30 605.9 402.9)" />
<ellipse cx="606.5" cy="403.9" rx="2.2" ry="2.8" fill="#f6f6f6" transform="rotate(-30 606.5 403.9)" />
<ellipse cx="614.0" cy="408.5" rx="2.3" ry="2.9" fill="#333" transform="rotate(-30 614.0 408.5)" />
<ellipse cx="614.6" cy="409.4" rx="2.2" ry="2.8" fill="#f6f6f6" transform="rotate(-30 614.6 409.4)" />
<ellipse cx="626.8" cy="404.5" rx="2.3" ry="2.9" fill="#333" transform="rotate(-30 626.8 404.5)" />
<ellipse cx="627.4" cy="405.4" rx="2.2" ry="2.8" fill="#f6f6f6" transform="rotate(-30 627.4 405.4)" />
<ellipse cx="634.3" cy="409.4" rx="2.3" ry="2.9" fill="#333" transform="rotate(-30 634.3 409.4)" />
<ellipse cx="634.9" cy="410.4" rx="2.2" ry="2.8" fill="#f6f6f6" transform="rotate(-30 634.9 410.4)" />
<ellipse cx="642.4" cy="413.4" rx="2.3" ry="2.9" fill="#333" transform="rotate(-30 642.4 413.4)" />
<ellipse cx="643.0" cy="414.4" rx="2.2" ry="2.8" fill="#f6f6f6" transform="rotate(-30 643.0 414.4)" />
<ellipse cx="634.3" cy="418.3" rx="2.3" ry="2.9" fill="#333" transform="rotate(-30 634.3 418.3)" />
<ellipse cx="634.9" cy="419.2" rx="2.2" ry="2.8" fill="#f6f6f6" transform="rotate(-30 634.9 419.2)" />
<ellipse cx="643.2" cy="418.3" rx="2.3" ry="2.9" fill="#333" transform="rotate(-30 643.2 418.3)" />
<ellipse cx="643.9" cy="419.2" rx="2.2" ry="2.8" fill="#f6f6f6" transform="rotate(-30 643.9 419.2)" />
<ellipse cx="642.4" cy="425.6" rx="2.3" ry="2.9" fill="#333" transform="rotate(-30 642.4 425.6)" />
<ellipse cx="643.0" cy="426.6" rx="2.2" ry="2.8" fill="#f6f6f6" transform="rotate(-30 643.0 426.6)" />
<ellipse cx="540.9" cy="399.6" rx="2.3" ry="2.9" fill="#333" transform="rotate(-30 540.9 399.6)" />
<ellipse cx="541.5" cy="400.6" rx="2.2" ry="2.8" fill="#f6f6f6" transform="rotate(-30 541.5 400.6)" />
<ellipse cx="548.2" cy="404.5" rx="2.3" ry="2.9" fill="#333" transform="rotate(-30 548.2 404.5)" />
<ellipse cx="548.9" cy="405.4" rx="2.2" ry="2.8" fill="#f6f6f6" transform="rotate(-30 548.9 405.4)" />
<ellipse cx="569.3" cy="415.9" rx="2.3" ry="2.9" fill="#333" transform="rotate(-30 569.3 415.9)" />
<ellipse cx="569.9" cy="416.9" rx="2.2" ry="2.8" fill="#f6f6f6" transform="rotate(-30 569.9 416.9)" />
<ellipse cx="577.4" cy="421.5" rx="2.3" ry="2.9" fill="#333" transform="rotate(-30 577.4 421.5)" />
<ellipse cx="578.0" cy="422.4" rx="2.2" ry="2.8" fill="#f6f6f6" transform="rotate(-30 578.0 422.4)" />
<ellipse cx="597.8" cy="432.1" rx="2.3" ry="2.9" fill="#333" transform="rotate(-30 597.8 432.1)" />
<ellipse cx="598.4" cy="433.1" rx="2.2" ry="2.8" fill="#f6f6f6" transform="rotate(-30 598.4 433.1)" />
<ellipse cx="605.9" cy="437.8" rx="2.3" ry="2.9" fill="#333" transform="rotate(-30 605.9 437.8)" />
<ellipse cx="606.5" cy="438.8" rx="2.2" ry="2.8" fill="#f6f6f6" transform="rotate(-30 606.5 438.8)" />
<ellipse cx="626.8" cy="449.2" rx="2.3" ry="2.9" fill="#333" transform="rotate(-30 626.8 449.2)" />
<ellipse cx="627.4" cy="450.1" rx="2.2" ry="2.8" fill="#f6f6f6" transform="rotate(-30 627.4 450.1)" />
<ellipse cx="634.3" cy="454.9" rx="2.3" ry="2.9" fill="#333" transform="rotate(-30 634.3 454.9)" />
<ellipse cx="634.9" cy="455.9" rx="2.2" ry="2.8" fill="#f6f6f6" transform="rotate(-30 634.9 455.9)" />
<ellipse cx="619.4" cy="345.6" rx="3.0" ry="3.8" fill="#f4f4f4" transform="rotate(-30 619.4 345.6)" />
<polygon points="553.4,408.2 557.4,406.6 558.6,410.0 554.8,411.8" fill="#f4f4f4" />
<polygon points="581.8,424.5 585.8,422.9 587.0,426.3 583.2,428.1" fill="#f4f4f4" />
<polygon points="610.3,440.7 614.3,439.1 615.5,442.5 611.7,444.3" fill="#f4f4f4" />
<polygon points="638.7,457.8 642.7,456.2 643.9,459.6 640.1,461.4" fill="#f4f4f4" />
<polygon points="558.39,339.12 559.22,340.94 559.88,342.81 560.35,344.69 560.64,346.56 560.74,348.38 560.64,350.12 560.34,351.75 559.86,353.24 559.20,354.57 558.36,355.72 557.37,356.66 556.25,357.38 555.00,357.87 553.66,358.12 552.24,358.12 550.77,357.87 549.28,357.38 547.79,356.66 546.32,355.72 544.90,354.58 543.56,353.25 542.32,351.75 541.20,350.12 540.21,348.38 539.38,346.56 538.72,344.69 538.25,342.81 537.96,340.94 537.86,339.12 537.96,337.38 538.26,335.75 538.74,334.26 539.40,332.93 540.24,331.78 541.23,330.84 542.35,330.12 543.60,329.63 544.94,329.38 546.36,329.38 547.83,329.63 549.32,330.12 550.81,330.84 552.28,331.78 553.70,332.92 555.04,334.25 556.28,335.75 557.40,337.38" fill="url(#holeG)" stroke="#8c8c8c" stroke-width="0.5"/>
<polygon points="586.89,355.62 587.72,357.44 588.38,359.31 588.85,361.19 589.14,363.06 589.24,364.88 589.14,366.62 588.84,368.25 588.36,369.74 587.70,371.07 586.86,372.22 585.87,373.16 584.75,373.88 583.50,374.37 582.16,374.62 580.74,374.62 579.27,374.37 577.78,373.88 576.29,373.16 574.82,372.22 573.40,371.08 572.06,369.75 570.82,368.25 569.70,366.62 568.71,364.88 567.88,363.06 567.22,361.19 566.75,359.31 566.46,357.44 566.36,355.62 566.46,353.88 566.76,352.25 567.24,350.76 567.90,349.43 568.74,348.28 569.73,347.34 570.85,346.62 572.10,346.13 573.44,345.88 574.86,345.88 576.33,346.13 577.82,346.62 579.31,347.34 580.78,348.28 582.20,349.42 583.54,350.75 584.78,352.25 585.90,353.88" fill="url(#holeG)" stroke="#8c8c8c" stroke-width="0.5"/>
<polygon points="615.39,371.97 616.22,373.79 616.88,375.66 617.35,377.54 617.64,379.41 617.74,381.23 617.64,382.97 617.34,384.60 616.86,386.09 616.20,387.42 615.36,388.57 614.37,389.51 613.25,390.23 612.00,390.72 610.66,390.97 609.24,390.97 607.77,390.72 606.28,390.23 604.79,389.51 603.32,388.57 601.90,387.43 600.56,386.10 599.32,384.60 598.20,382.97 597.21,381.23 596.38,379.41 595.72,377.54 595.25,375.66 594.96,373.79 594.86,371.97 594.96,370.23 595.26,368.60 595.74,367.11 596.40,365.78 597.24,364.63 598.23,363.69 599.35,362.97 600.60,362.48 601.94,362.23 603.36,362.23 604.83,362.48 606.32,362.97 607.81,363.69 609.28,364.63 610.70,365.77 612.04,367.10 613.28,368.60 614.40,370.23" fill="url(#holeG)" stroke="#8c8c8c" stroke-width="0.5"/>
<polygon points="644.09,388.77 644.92,390.59 645.58,392.46 646.05,394.34 646.34,396.21 646.44,398.03 646.34,399.77 646.04,401.40 645.56,402.89 644.90,404.22 644.06,405.37 643.07,406.31 641.95,407.03 640.70,407.52 639.36,407.77 637.94,407.77 636.47,407.52 634.98,407.03 633.49,406.31 632.02,405.37 630.60,404.23 629.26,402.90 628.02,401.40 626.90,399.77 625.91,398.03 625.08,396.21 624.42,394.34 623.95,392.46 623.66,390.59 623.56,388.77 623.66,387.03 623.96,385.40 624.44,383.91 625.10,382.58 625.94,381.43 626.93,380.49 628.05,379.77 629.30,379.28 630.64,379.03 632.06,379.03 633.53,379.28 635.02,379.77 636.51,380.49 637.98,381.43 639.40,382.57 640.74,383.90 641.98,385.40 643.10,387.03" fill="url(#holeG)" stroke="#8c8c8c" stroke-width="0.5"/>
<polygon points="558.39,384.12 559.22,385.94 559.88,387.81 560.35,389.69 560.64,391.56 560.74,393.38 560.64,395.12 560.34,396.75 559.86,398.24 559.20,399.57 558.36,400.72 557.37,401.66 556.25,402.38 555.00,402.87 553.66,403.12 552.24,403.12 550.77,402.87 549.28,402.38 547.79,401.66 546.32,400.72 544.90,399.58 543.56,398.25 542.32,396.75 541.20,395.12 540.21,393.38 539.38,391.56 538.72,389.69 538.25,387.81 537.96,385.94 537.86,384.12 537.96,382.38 538.26,380.75 538.74,379.26 539.40,377.93 540.24,376.78 541.23,375.84 542.35,375.12 543.60,374.63 544.94,374.38 546.36,374.38 547.83,374.63 549.32,375.12 550.81,375.84 552.28,376.78 553.70,377.92 555.04,379.25 556.28,380.75 557.40,382.38" fill="url(#holeG)" stroke="#8c8c8c" stroke-width="0.5"/>
<polygon points="586.89,400.07 587.72,401.89 588.38,403.76 588.85,405.64 589.14,407.51 589.24,409.33 589.14,411.07 588.84,412.70 588.36,414.19 587.70,415.52 586.86,416.67 585.87,417.61 584.75,418.33 583.50,418.82 582.16,419.07 580.74,419.07 579.27,418.82 577.78,418.33 576.29,417.61 574.82,416.67 573.40,415.53 572.06,414.20 570.82,412.70 569.70,411.07 568.71,409.33 567.88,407.51 567.22,405.64 566.75,403.76 566.46,401.89 566.36,400.07 566.46,398.33 566.76,396.70 567.24,395.21 567.90,393.88 568.74,392.73 569.73,391.79 570.85,391.07 572.10,390.58 573.44,390.33 574.86,390.33 576.33,390.58 577.82,391.07 579.31,391.79 580.78,392.73 582.20,393.87 583.54,395.20 584.78,396.70 585.90,398.33" fill="url(#holeG)" stroke="#8c8c8c" stroke-width="0.5"/>
<polygon points="615.39,416.57 616.22,418.39 616.88,420.26 617.35,422.14 617.64,424.01 617.74,425.83 617.64,427.57 617.34,429.20 616.86,430.69 616.20,432.02 615.36,433.17 614.37,434.11 613.25,434.83 612.00,435.32 610.66,435.57 609.24,435.57 607.77,435.32 606.28,434.83 604.79,434.11 603.32,433.17 601.90,432.03 600.56,430.70 599.32,429.20 598.20,427.57 597.21,425.83 596.38,424.01 595.72,422.14 595.25,420.26 594.96,418.39 594.86,416.57 594.96,414.83 595.26,413.20 595.74,411.71 596.40,410.38 597.24,409.23 598.23,408.29 599.35,407.57 600.60,407.08 601.94,406.83 603.36,406.83 604.83,407.08 606.32,407.57 607.81,408.29 609.28,409.23 610.70,410.37 612.04,411.70 613.28,413.20 614.40,414.83" fill="url(#holeG)" stroke="#8c8c8c" stroke-width="0.5"/>
<polygon points="644.09,433.47 644.92,435.29 645.58,437.16 646.05,439.04 646.34,440.91 646.44,442.73 646.34,444.47 646.04,446.10 645.56,447.59 644.90,448.92 644.06,450.07 643.07,451.01 641.95,451.73 640.70,452.22 639.36,452.47 637.94,452.47 636.47,452.22 634.98,451.73 633.49,451.01 632.02,450.07 630.60,448.93 629.26,447.60 628.02,446.10 626.90,444.47 625.91,442.73 625.08,440.91 624.42,439.04 623.95,437.16 623.66,435.29 623.56,433.47 623.66,431.73 623.96,430.10 624.44,428.61 625.10,427.28 625.94,426.13 626.93,425.19 628.05,424.47 629.30,423.98 630.64,423.73 632.06,423.73 633.53,423.98 635.02,424.47 636.51,425.19 637.98,426.13 639.40,427.27 640.74,428.60 641.98,430.10 643.10,431.73" fill="url(#holeG)" stroke="#8c8c8c" stroke-width="0.5"/>
<ellipse cx="544.6" cy="433.6" rx="3.8" ry="4.6" fill="#8a8a8a" stroke="#d0d0d0" stroke-width="0.8" transform="rotate(-28 544.6 433.6)" />
<ellipse cx="544.6" cy="433.6" rx="1.8" ry="2.3" fill="#cfcfcf" stroke="#eee" stroke-width="0.5" transform="rotate(-28 544.6 433.6)" />
<ellipse cx="645.4" cy="492.1" rx="3.8" ry="4.6" fill="#8a8a8a" stroke="#d0d0d0" stroke-width="0.8" transform="rotate(-28 645.4 492.1)" />
<ellipse cx="645.4" cy="492.1" rx="1.8" ry="2.3" fill="#cfcfcf" stroke="#eee" stroke-width="0.5" transform="rotate(-28 645.4 492.1)" />
<ellipse cx="592.6" cy="396.2" rx="3.8" ry="4.6" fill="#8a8a8a" stroke="#d0d0d0" stroke-width="0.8" transform="rotate(-28 592.6 396.2)" />
<ellipse cx="592.6" cy="396.2" rx="1.8" ry="2.3" fill="#cfcfcf" stroke="#eee" stroke-width="0.5" transform="rotate(-28 592.6 396.2)" />
</g>
<g id="leaders" stroke-linecap="butt">
<polyline points="501.3,181.0 501.3,210.5 636.2,288.5 636.2,389.0" fill="none" stroke="#1b1b1b" stroke-width="1.6" />
<polyline points="551.8,240.5 551.8,340.0" fill="none" stroke="#1b1b1b" stroke-width="1.6" />
<polyline points="580.8,257.0 580.8,356.5" fill="none" stroke="#1b1b1b" stroke-width="1.6" />
<polyline points="610.0,274.0 610.0,373.8" fill="none" stroke="#1b1b1b" stroke-width="1.6" />
<polyline points="608.8,231.0 608.8,261.5 640.5,280.0 640.5,391.0" fill="none" stroke="#1b1b1b" stroke-width="1.6" />
<polyline points="393.0,298.0 410.5,288.0 410.5,429.3" fill="none" stroke="#1b1b1b" stroke-width="1.6" />
<polyline points="393.0,367.5 410.5,357.5" fill="none" stroke="#1b1b1b" stroke-width="1.6" />
<polyline points="393.0,439.5 546.5,350.3" fill="none" stroke="#1b1b1b" stroke-width="1.6" />
<polyline points="393.0,652.5 410.5,642.5 410.5,473.9 546.5,395.3" fill="none" stroke="#1b1b1b" stroke-width="1.6" />
<polyline points="393.0,583.0 410.5,573.0" fill="none" stroke="#1b1b1b" stroke-width="1.6" />
<polyline points="533.8,359.1 619.6,407.9 632.8,400.8" fill="none" stroke="#1b1b1b" stroke-width="1.6" />
<polyline points="562.8,374.7 575.6,366.8" fill="none" stroke="#1b1b1b" stroke-width="1.6" />
<polyline points="590.9,390.6 604.0,384.0" fill="none" stroke="#1b1b1b" stroke-width="1.6" />
<polyline points="533.8,403.2 619.6,451.9 632.8,445.0" fill="none" stroke="#1b1b1b" stroke-width="1.6" />
<polyline points="562.8,418.8 575.0,411.8" fill="none" stroke="#1b1b1b" stroke-width="1.6" />
<polyline points="590.9,435.2 604.0,428.1" fill="none" stroke="#1b1b1b" stroke-width="1.6" />
</g>
<g transform="translate(0 0)">
<g transform="translate(336.5 328.6) rotate(-28.92)">
<path d="M0,-14.0 L30.0,-14.0 A7.0,14.0 0 0 1 30.0,14.0 L0,14.0 A7.0,14.0 0 0 1 0,-14.0 Z" fill="url(#cylS)" stroke="#9a9a9a" stroke-width="0.6"/>
</g>
<polygon points="298.2,318.0 323.1,332.0 323.1,369.5 306.8,360.8 298.2,345.0" fill="#9c9c9c" />
<polygon points="323.1,332.0 348.0,318.8 348.0,355.3 323.1,369.5" fill="#7c7c7c" />
<polygon points="298.2,318.0 326.2,302.4 351.9,315.7 348.0,318.8 323.1,332.0" fill="#fbfbfb" stroke="#b0b0b0" stroke-width="0.6" stroke-linejoin="round" />
<g transform="translate(300.4 349.8) rotate(-27.00)">
<path d="M0,-12.4 L9.0,-12.4 A6.2,12.4 0 0 1 9.0,12.4 L0,12.4 A6.2,12.4 0 0 1 0,-12.4 Z" fill="url(#nutG)" stroke="#8a8a8a" stroke-width="0.7"/>
<path d="M5.0,-12.4 A6.2,12.4 0 0 1 5.0,12.4" fill="none" stroke="#9a9a9a" stroke-width="0.9"/>
<ellipse cx="0" cy="0" rx="6.2" ry="12.4" fill="#f8f8f8" stroke="#8a8a8a" stroke-width="0.7"/>
</g>
<g transform="translate(296.8 351.7) rotate(-27.00)">
<path d="M0,-7.688 L4.0,-7.688 L4.0,7.688 L0,7.688 A3.8,7.688 0 0 1 0,-7.688 Z" fill="url(#nutG)" stroke="#8a8a8a" stroke-width="0.6"/>
<ellipse cx="0" cy="0" rx="3.8" ry="7.688" fill="#f2f2f2" stroke="#8a8a8a" stroke-width="0.6"/>
</g>
<polygon points="305.9,351.2 308.7,350.0 308.7,356.0 305.9,357.0" fill="#5a5a5a" />
<path d="M310.5,356.6 Q317.0,354.5 319.0,348.5" fill="none" stroke="#1a1a1a" stroke-width="1.3"/>
<g transform="translate(263.4 369.9) rotate(-25.18)">
<path d="M0,-3.8 L38.8,-3.8 L38.8,3.8 L0,3.8 A1.9,3.8 0 0 1 0,-3.8 Z" fill="url(#rodG)" stroke="#8a8a8a" stroke-width="0.6"/>
<ellipse cx="0" cy="0" rx="1.9" ry="3.8" fill="#e6e6e6" stroke="#8a8a8a" stroke-width="0.6"/>
</g>
<ellipse cx="323.0" cy="329.6" rx="6.0" ry="6.8" fill="#d4d4d4" stroke="#666" stroke-width="0.7" transform="rotate(-27 323.0 329.6)" />
<path d="M322.5,338 Q328,336 329,330.5" fill="none" stroke="#222" stroke-width="1.2"/>
<ellipse cx="321.0" cy="331.4" rx="5.8" ry="6.6" fill="#fafafa" stroke="#666" stroke-width="0.8" transform="rotate(-27 321.0 331.4)" />
<ellipse cx="320.7" cy="331.7" rx="2.4" ry="3.4" fill="#e4e4e4" stroke="#666" stroke-width="0.9" transform="rotate(-27 320.7 331.7)" />
</g>
<g transform="translate(0 0)">
<g transform="translate(342.3 394.2) rotate(-28.78)">
<path d="M0,-14.4 L22.0,-14.4 A7.2,14.4 0 0 1 22.0,14.4 L0,14.4 A7.2,14.4 0 0 1 0,-14.4 Z" fill="url(#cylS)" stroke="#9a9a9a" stroke-width="0.6"/>
</g>
<ellipse cx="353.8" cy="375.8" rx="4.9" ry="2.6" fill="#c8c8c8" stroke="#3a3a3a" stroke-width="1.2" transform="rotate(-8 353.8 375.8)" />
<ellipse cx="364.6" cy="393.0" rx="4.6" ry="5.8" fill="#3c3c3c" transform="rotate(-20 364.6 393.0)" />
<ellipse cx="363.4" cy="393.8" rx="3.1" ry="4.2" fill="#fdfdfd" stroke="#555" stroke-width="0.6" transform="rotate(-20 363.4 393.8)" />
<polygon points="320.0,376.3 344.2,390.0 344.2,423.4 320.0,409.8" fill="#9c9c9c" />
<polygon points="344.2,390.0 347.9,388.6 347.9,421.5 344.2,423.4" fill="#bdbdbd" stroke="#e6e6e6" stroke-width="0.4" stroke-linejoin="round" />
<polygon points="320.0,376.3 325.5,373.5 330.0,375.0 347.9,388.6 344.2,390.0" fill="#fbfbfb" stroke="#b0b0b0" stroke-width="0.5" stroke-linejoin="round" />
<polygon points="321.5,375.3 325.0,373.8 325.0,377.0 321.5,378.5" fill="#777" />
<g transform="translate(328.0 383.4) rotate(-27.00)">
<path d="M0,-3.7 L4.0,-3.7 A2.0,3.7 0 0 1 4.0,3.7 L0,3.7 A2.0,3.7 0 0 1 0,-3.7 Z" fill="url(#nutG)" stroke="#666" stroke-width="0.7"/>
<ellipse cx="0" cy="0" rx="2.0" ry="3.7" fill="#fafafa" stroke="#666" stroke-width="0.7"/>
</g>
<ellipse cx="328.0" cy="383.4" rx="1.1" ry="1.9" fill="#ddd" stroke="#888" stroke-width="0.5" transform="rotate(-27 328.0 383.4)" />
<g transform="translate(328.8 420.4) rotate(-27.00)">
<path d="M0,-3.7 L4.0,-3.7 A2.0,3.7 0 0 1 4.0,3.7 L0,3.7 A2.0,3.7 0 0 1 0,-3.7 Z" fill="url(#nutG)" stroke="#666" stroke-width="0.7"/>
<ellipse cx="0" cy="0" rx="2.0" ry="3.7" fill="#fafafa" stroke="#666" stroke-width="0.7"/>
</g>
<ellipse cx="328.8" cy="420.4" rx="1.1" ry="1.9" fill="#ddd" stroke="#888" stroke-width="0.5" transform="rotate(-27 328.8 420.4)" />
<g transform="translate(321.4 406.5) rotate(-28.00)">
<path d="M0,-11.8 L9.0,-11.8 A5.9,11.8 0 0 1 9.0,11.8 L0,11.8 A5.9,11.8 0 0 1 0,-11.8 Z" fill="url(#nutG)" stroke="#8a8a8a" stroke-width="0.7"/>
<path d="M4.9,-11.8 A5.9,11.8 0 0 1 4.9,11.8" fill="none" stroke="#9a9a9a" stroke-width="0.9"/>
<ellipse cx="0" cy="0" rx="5.9" ry="11.8" fill="#f8f8f8" stroke="#8a8a8a" stroke-width="0.7"/>
</g>
<g transform="translate(317.9 408.4) rotate(-28.00)">
<path d="M0,-7.316000000000001 L4.0,-7.316000000000001 L4.0,7.316000000000001 L0,7.316000000000001 A3.7,7.316000000000001 0 0 1 0,-7.316000000000001 Z" fill="url(#nutG)" stroke="#8a8a8a" stroke-width="0.6"/>
<ellipse cx="0" cy="0" rx="3.7" ry="7.316000000000001" fill="#f2f2f2" stroke="#8a8a8a" stroke-width="0.6"/>
</g>
<polygon points="326.9,407.8 329.7,406.6 329.7,412.6 326.9,413.6" fill="#5a5a5a" />
<path d="M331.5,413.2 Q338.0,411.1 340.0,405.1" fill="none" stroke="#1a1a1a" stroke-width="1.3"/>
<g transform="translate(256.0 443.2) rotate(-28.83)">
<path d="M0,-3.3 L71.3,-3.3 L71.3,3.3 L0,3.3 A1.6,3.3 0 0 1 0,-3.3 Z" fill="url(#rodG)" stroke="#8a8a8a" stroke-width="0.6"/>
<ellipse cx="0" cy="0" rx="1.6" ry="3.3" fill="#e6e6e6" stroke="#8a8a8a" stroke-width="0.6"/>
</g>
</g>
<g>
<g transform="translate(345.6 460.4) rotate(-31.35)">
<path d="M0,-13.9 L35.9,-13.9 A8.3,13.9 0 0 1 35.9,13.9 L0,13.9 A8.3,13.9 0 0 1 0,-13.9 Z" fill="url(#cylS)" stroke="#9a9a9a" stroke-width="0.6"/>
<path d="M25.2,-13.9 A8.3,13.9 0 0 1 25.2,13.9" fill="none" stroke="#7a7a7a" stroke-width="1.3"/>
<path d="M22.3,-13.9 A8.3,13.9 0 0 1 22.3,13.9" fill="none" stroke="#c0c0c0" stroke-width="0.8"/>
</g>
<path d="M302,462 Q302,457.5 306,459.5 L326.9,469.8 L326.9,500.9 L314,496.5 Q302,492 302,484 Z" fill="#c4c4c4"/>
<polygon points="326.9,469.8 347.9,457.6 347.9,490.4 326.9,500.9" fill="#878787" />
<path d="M303,457.5 Q304,454 307,452.4 L323,444.2 Q327,442.3 330.5,444.8 L347.9,458.1 L326.9,469.8 L306,459.5 Z" fill="#fbfbfb" stroke="#b0b0b0" stroke-width="0.6"/>
<ellipse cx="307.5" cy="463.5" rx="2.3" ry="3.0" fill="#e8e8e8" stroke="#777" stroke-width="0.6" transform="rotate(-27 307.5 463.5)" />
<ellipse cx="321.5" cy="470.5" rx="2.3" ry="3.0" fill="#e8e8e8" stroke="#777" stroke-width="0.6" transform="rotate(-27 321.5 470.5)" />
<ellipse cx="321.5" cy="497.0" rx="2.3" ry="3.0" fill="#e8e8e8" stroke="#777" stroke-width="0.6" transform="rotate(-27 321.5 497.0)" />
<ellipse cx="316.0" cy="457.5" rx="2.3" ry="3.0" fill="#e8e8e8" stroke="#777" stroke-width="0.6" transform="rotate(-27 316.0 457.5)" />
<ellipse cx="316.5" cy="459.5" rx="3.6" ry="4.6" fill="#c8c8c8" stroke="#777" stroke-width="0.7" transform="rotate(-27 316.5 459.5)" />
<ellipse cx="316.0" cy="460.0" rx="2.0" ry="2.8" fill="#f4f4f4" stroke="#777" stroke-width="0.6" transform="rotate(-27 316.0 460.0)" />
<g transform="translate(303.1 486.4) rotate(-27.00)">
<path d="M0,-11.8 L9.0,-11.8 A5.9,11.8 0 0 1 9.0,11.8 L0,11.8 A5.9,11.8 0 0 1 0,-11.8 Z" fill="url(#nutG)" stroke="#8a8a8a" stroke-width="0.7"/>
<path d="M5.0,-11.8 A5.9,11.8 0 0 1 5.0,11.8" fill="none" stroke="#9a9a9a" stroke-width="0.9"/>
<ellipse cx="0" cy="0" rx="5.9" ry="11.8" fill="#f8f8f8" stroke="#8a8a8a" stroke-width="0.7"/>
</g>
<g transform="translate(299.5 488.3) rotate(-27.00)">
<path d="M0,-7.316000000000001 L4.0,-7.316000000000001 L4.0,7.316000000000001 L0,7.316000000000001 A3.7,7.316000000000001 0 0 1 0,-7.316000000000001 Z" fill="url(#nutG)" stroke="#8a8a8a" stroke-width="0.6"/>
<ellipse cx="0" cy="0" rx="3.7" ry="7.316000000000001" fill="#f2f2f2" stroke="#8a8a8a" stroke-width="0.6"/>
</g>
<polygon points="308.6,487.8 311.4,486.6 311.4,492.6 308.6,493.6" fill="#5a5a5a" />
<path d="M313.2,493.2 Q319.7,491.1 321.7,485.1" fill="none" stroke="#1a1a1a" stroke-width="1.3"/>
<g transform="translate(278.0 500.4) rotate(-25.64)">
<path d="M0,-4.0 L25.0,-4.0 L25.0,4.0 L0,4.0 A2.0,4.0 0 0 1 0,-4.0 Z" fill="url(#rodG)" stroke="#8a8a8a" stroke-width="0.6"/>
<ellipse cx="0" cy="0" rx="2.0" ry="4.0" fill="#b4b4b4" stroke="#8a8a8a" stroke-width="0.6"/>
</g>
</g>
<g transform="translate(0 216.5)">
<g transform="translate(342.3 394.2) rotate(-28.78)">
<path d="M0,-14.4 L22.0,-14.4 A7.2,14.4 0 0 1 22.0,14.4 L0,14.4 A7.2,14.4 0 0 1 0,-14.4 Z" fill="url(#cylS)" stroke="#9a9a9a" stroke-width="0.6"/>
</g>
<ellipse cx="353.8" cy="375.8" rx="4.9" ry="2.6" fill="#c8c8c8" stroke="#3a3a3a" stroke-width="1.2" transform="rotate(-8 353.8 375.8)" />
<ellipse cx="364.6" cy="393.0" rx="4.6" ry="5.8" fill="#3c3c3c" transform="rotate(-20 364.6 393.0)" />
<ellipse cx="363.4" cy="393.8" rx="3.1" ry="4.2" fill="#fdfdfd" stroke="#555" stroke-width="0.6" transform="rotate(-20 363.4 393.8)" />
<polygon points="320.0,376.3 344.2,390.0 344.2,423.4 320.0,409.8" fill="#9c9c9c" />
<polygon points="344.2,390.0 347.9,388.6 347.9,421.5 344.2,423.4" fill="#bdbdbd" stroke="#e6e6e6" stroke-width="0.4" stroke-linejoin="round" />
<polygon points="320.0,376.3 325.5,373.5 330.0,375.0 347.9,388.6 344.2,390.0" fill="#fbfbfb" stroke="#b0b0b0" stroke-width="0.5" stroke-linejoin="round" />
<polygon points="321.5,375.3 325.0,373.8 325.0,377.0 321.5,378.5" fill="#777" />
<g transform="translate(328.0 383.4) rotate(-27.00)">
<path d="M0,-3.7 L4.0,-3.7 A2.0,3.7 0 0 1 4.0,3.7 L0,3.7 A2.0,3.7 0 0 1 0,-3.7 Z" fill="url(#nutG)" stroke="#666" stroke-width="0.7"/>
<ellipse cx="0" cy="0" rx="2.0" ry="3.7" fill="#fafafa" stroke="#666" stroke-width="0.7"/>
</g>
<ellipse cx="328.0" cy="383.4" rx="1.1" ry="1.9" fill="#ddd" stroke="#888" stroke-width="0.5" transform="rotate(-27 328.0 383.4)" />
<g transform="translate(328.8 420.4) rotate(-27.00)">
<path d="M0,-3.7 L4.0,-3.7 A2.0,3.7 0 0 1 4.0,3.7 L0,3.7 A2.0,3.7 0 0 1 0,-3.7 Z" fill="url(#nutG)" stroke="#666" stroke-width="0.7"/>
<ellipse cx="0" cy="0" rx="2.0" ry="3.7" fill="#fafafa" stroke="#666" stroke-width="0.7"/>
</g>
<ellipse cx="328.8" cy="420.4" rx="1.1" ry="1.9" fill="#ddd" stroke="#888" stroke-width="0.5" transform="rotate(-27 328.8 420.4)" />
<g transform="translate(321.4 406.5) rotate(-28.00)">
<path d="M0,-11.8 L9.0,-11.8 A5.9,11.8 0 0 1 9.0,11.8 L0,11.8 A5.9,11.8 0 0 1 0,-11.8 Z" fill="url(#nutG)" stroke="#8a8a8a" stroke-width="0.7"/>
<path d="M4.9,-11.8 A5.9,11.8 0 0 1 4.9,11.8" fill="none" stroke="#9a9a9a" stroke-width="0.9"/>
<ellipse cx="0" cy="0" rx="5.9" ry="11.8" fill="#f8f8f8" stroke="#8a8a8a" stroke-width="0.7"/>
</g>
<g transform="translate(317.9 408.4) rotate(-28.00)">
<path d="M0,-7.316000000000001 L4.0,-7.316000000000001 L4.0,7.316000000000001 L0,7.316000000000001 A3.7,7.316000000000001 0 0 1 0,-7.316000000000001 Z" fill="url(#nutG)" stroke="#8a8a8a" stroke-width="0.6"/>
<ellipse cx="0" cy="0" rx="3.7" ry="7.316000000000001" fill="#f2f2f2" stroke="#8a8a8a" stroke-width="0.6"/>
</g>
<polygon points="326.9,407.8 329.7,406.6 329.7,412.6 326.9,413.6" fill="#5a5a5a" />
<path d="M331.5,413.2 Q338.0,411.1 340.0,405.1" fill="none" stroke="#1a1a1a" stroke-width="1.3"/>
<g transform="translate(256.0 443.2) rotate(-28.83)">
<path d="M0,-3.3 L71.3,-3.3 L71.3,3.3 L0,3.3 A1.6,3.3 0 0 1 0,-3.3 Z" fill="url(#rodG)" stroke="#8a8a8a" stroke-width="0.6"/>
<ellipse cx="0" cy="0" rx="1.6" ry="3.3" fill="#e6e6e6" stroke="#8a8a8a" stroke-width="0.6"/>
</g>
</g>
<g transform="translate(0 355)">
<g transform="translate(336.5 328.6) rotate(-28.92)">
<path d="M0,-14.0 L30.0,-14.0 A7.0,14.0 0 0 1 30.0,14.0 L0,14.0 A7.0,14.0 0 0 1 0,-14.0 Z" fill="url(#cylS)" stroke="#9a9a9a" stroke-width="0.6"/>
</g>
<polygon points="298.2,318.0 323.1,332.0 323.1,369.5 306.8,360.8 298.2,345.0" fill="#9c9c9c" />
<polygon points="323.1,332.0 348.0,318.8 348.0,355.3 323.1,369.5" fill="#7c7c7c" />
<polygon points="298.2,318.0 326.2,302.4 351.9,315.7 348.0,318.8 323.1,332.0" fill="#fbfbfb" stroke="#b0b0b0" stroke-width="0.6" stroke-linejoin="round" />
<g transform="translate(300.4 349.8) rotate(-27.00)">
<path d="M0,-12.4 L9.0,-12.4 A6.2,12.4 0 0 1 9.0,12.4 L0,12.4 A6.2,12.4 0 0 1 0,-12.4 Z" fill="url(#nutG)" stroke="#8a8a8a" stroke-width="0.7"/>
<path d="M5.0,-12.4 A6.2,12.4 0 0 1 5.0,12.4" fill="none" stroke="#9a9a9a" stroke-width="0.9"/>
<ellipse cx="0" cy="0" rx="6.2" ry="12.4" fill="#f8f8f8" stroke="#8a8a8a" stroke-width="0.7"/>
</g>
<g transform="translate(296.8 351.7) rotate(-27.00)">
<path d="M0,-7.688 L4.0,-7.688 L4.0,7.688 L0,7.688 A3.8,7.688 0 0 1 0,-7.688 Z" fill="url(#nutG)" stroke="#8a8a8a" stroke-width="0.6"/>
<ellipse cx="0" cy="0" rx="3.8" ry="7.688" fill="#f2f2f2" stroke="#8a8a8a" stroke-width="0.6"/>
</g>
<polygon points="305.9,351.2 308.7,350.0 308.7,356.0 305.9,357.0" fill="#5a5a5a" />
<path d="M310.5,356.6 Q317.0,354.5 319.0,348.5" fill="none" stroke="#1a1a1a" stroke-width="1.3"/>
<g transform="translate(263.4 369.9) rotate(-25.18)">
<path d="M0,-3.8 L38.8,-3.8 L38.8,3.8 L0,3.8 A1.9,3.8 0 0 1 0,-3.8 Z" fill="url(#rodG)" stroke="#8a8a8a" stroke-width="0.6"/>
<ellipse cx="0" cy="0" rx="1.9" ry="3.8" fill="#e6e6e6" stroke="#8a8a8a" stroke-width="0.6"/>
</g>
<ellipse cx="323.0" cy="329.6" rx="6.0" ry="6.8" fill="#d4d4d4" stroke="#666" stroke-width="0.7" transform="rotate(-27 323.0 329.6)" />
<path d="M322.5,338 Q328,336 329,330.5" fill="none" stroke="#222" stroke-width="1.2"/>
<ellipse cx="321.0" cy="331.4" rx="5.8" ry="6.6" fill="#fafafa" stroke="#666" stroke-width="0.8" transform="rotate(-27 321.0 331.4)" />
<ellipse cx="320.7" cy="331.7" rx="2.4" ry="3.4" fill="#e4e4e4" stroke="#666" stroke-width="0.9" transform="rotate(-27 320.7 331.7)" />
</g>
<text x="550.6" y="71.8" textLength="83.4" lengthAdjust="spacingAndGlyphs">GSC1507</text>
<text x="659.2" y="140.2" textLength="82.6" lengthAdjust="spacingAndGlyphs">GSS1530</text>
<text x="108.7" y="316.8" textLength="42.6" lengthAdjust="spacingAndGlyphs">New</text>
<text x="108.9" y="343.3" textLength="131" lengthAdjust="spacingAndGlyphs">sleeve adapter</text>
<text x="108.7" y="412.3" textLength="142.5" lengthAdjust="spacingAndGlyphs">New drill sleeve</text>
<text x="108.7" y="498" textLength="77.2" lengthAdjust="spacingAndGlyphs">MSC507</text>
<text x="108.7" y="633.7" textLength="142.5" lengthAdjust="spacingAndGlyphs">New drill sleeve</text>
<text x="108.7" y="694.1" textLength="42.6" lengthAdjust="spacingAndGlyphs">New</text>
<text x="108.9" y="720.7" textLength="131" lengthAdjust="spacingAndGlyphs">sleeve adapter</text>
</svg>
</body></html>
